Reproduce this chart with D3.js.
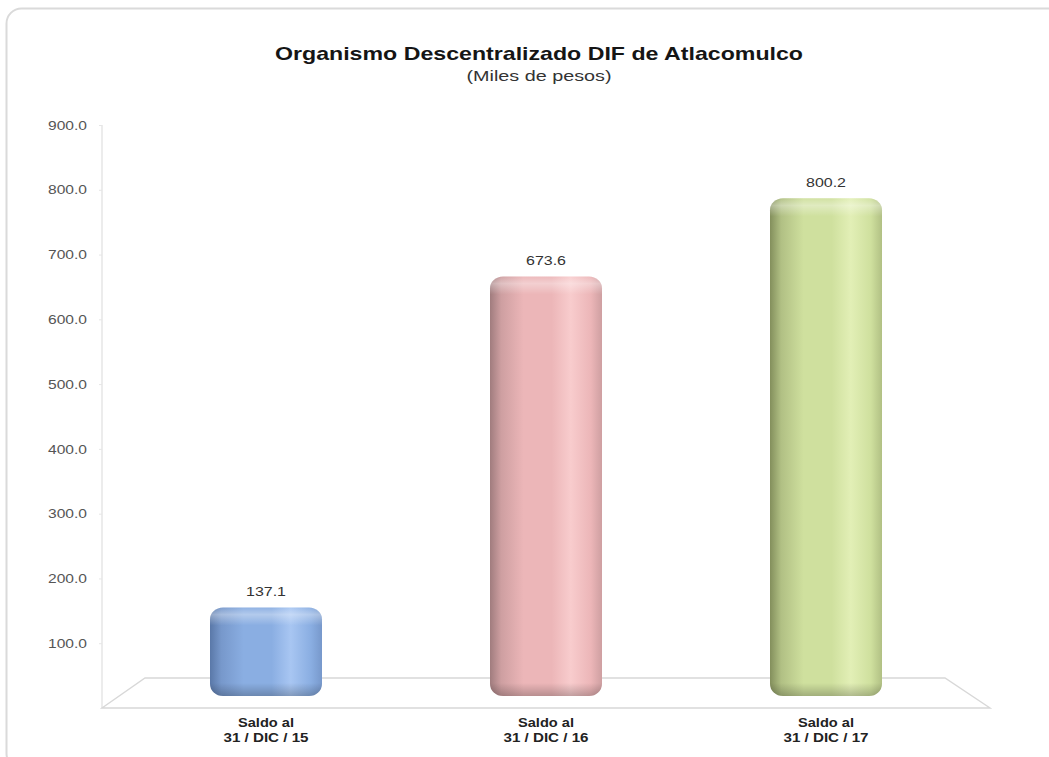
<!DOCTYPE html>
<html><head><meta charset="utf-8">
<script src="https://cdn.jsdelivr.net/npm/d3@7"></script>
<style>body{margin:0;background:#fff;}svg{display:block;}</style>
</head><body>
<svg id="c" width="1049" height="757"></svg>
<script>
const categories = ["Saldo al|31 / DIC / 15", "Saldo al|31 / DIC / 16", "Saldo al|31 / DIC / 17"];
const values = [137.1, 673.6, 800.2];
const valueLabels = ["137.1", "673.6", "800.2"];
const tickValues = [100, 200, 300, 400, 500, 600, 700, 800, 900];
const barColors = [
  {dark:"#5a78a8", mid:"#8aaee2", light:"#a8c6f2"},
  {dark:"#a07c7e", mid:"#ecb6b8", light:"#f8cccd"},
  {dark:"#838f5c", mid:"#cfe09e", light:"#e2efb6"}
];
const title = "Organismo Descentralizado DIF de Atlacomulco";
const subtitle = "(Miles de pesos)";

const FONT = "Liberation Sans, Arial, sans-serif";
const svg = d3.select("#c");
const defs = svg.append("defs");

// outer frame
svg.append("rect").attr("x",6.5).attr("y",8.5).attr("width",1060).attr("height",760)
  .attr("rx",15).attr("fill","#fff").attr("stroke","#dadada").attr("stroke-width",2);

// title
svg.append("text").attr("x",539).attr("y",60).attr("text-anchor","middle")
  .attr("font-family",FONT).attr("font-weight","bold")
  .attr("font-size",19).attr("fill","#151515")
  .attr("textLength",528).attr("lengthAdjust","spacingAndGlyphs").text(title);
svg.append("text").attr("x",539).attr("y",81).attr("text-anchor","middle")
  .attr("font-family",FONT)
  .attr("font-size",14).attr("fill","#333")
  .attr("textLength",145).attr("lengthAdjust","spacingAndGlyphs").text(subtitle);

// axis scale
const yAxisScale = d3.scaleLinear().domain([0,900]).range([708,125]);
const axisG = svg.append("g").attr("transform","translate(102,0)");
const axis = d3.axisLeft(yAxisScale).tickValues(tickValues).tickFormat(d3.format(".1f")).tickSize(3).tickPadding(12);
axisG.call(axis);
axisG.select(".domain").attr("stroke","#d9d9d9").attr("d","M0,125V708");
axisG.selectAll(".tick line").attr("stroke","#e6e6e6");
axisG.selectAll(".tick text").attr("font-family",FONT)
  .attr("font-size",13).attr("fill","#555")
  .attr("textLength",39).attr("lengthAdjust","spacingAndGlyphs");

// floor
const floorG = svg.append("g").attr("fill","none").attr("stroke","#d8d8d8").attr("stroke-width",1.4);
floorG.append("path").attr("d","M102,708L990,708L945,678L145,678Z");

// x scale
const x = d3.scaleBand().domain(categories).range([126,966]).paddingInner(0.6).paddingOuter(0.3);
const yBar = d3.scaleLinear().domain([0,900]).range([692,692-900*0.617]);
const barBottom = 696;

categories.forEach((c,i)=>{
  const col = barColors[i];
  const g1 = defs.append("linearGradient").attr("id","g"+i).attr("x1","0").attr("x2","1").attr("y1","0").attr("y2","0");
  [[0,col.dark],[0.1,d3.interpolate(col.dark,col.mid)(0.6)],[0.3,col.mid],[0.55,col.mid],[0.72,col.light],[0.9,col.mid],[1,d3.interpolate(col.mid,col.dark)(0.4)]].forEach(s=>
    g1.append("stop").attr("offset",s[0]).attr("stop-color",s[1]));
  const g2 = defs.append("linearGradient").attr("id","t"+i).attr("x1","0").attr("x2","0").attr("y1","0").attr("y2","1");
  [[0,"#fff",0.05],[0.2,"#fff",0.35],[0.5,"#fff",0.0],[1,"#fff",0]].forEach(s=>
    g2.append("stop").attr("offset",s[0]).attr("stop-color",s[1]).attr("stop-opacity",s[2]));
  const g3 = defs.append("linearGradient").attr("id","b"+i).attr("x1","0").attr("x2","0").attr("y1","0").attr("y2","1");
  [[0,"#000",0],[0.5,"#000",0],[1,"#000",0.22]].forEach(s=>
    g3.append("stop").attr("offset",s[0]).attr("stop-color",s[1]).attr("stop-opacity",s[2]));
});

const bars = svg.append("g").selectAll("g").data(values).join("g");
bars.each(function(v,i){
  const g = d3.select(this);
  const x0 = x(categories[i]), w = x.bandwidth();
  const yt = yBar(v);
  const h = barBottom - yt;
  g.append("rect").attr("x",x0).attr("y",yt).attr("width",w).attr("height",h)
    .attr("rx",13).attr("ry",12).attr("fill",`url(#g${i})`);
  g.append("rect").attr("x",x0).attr("y",yt).attr("width",w).attr("height",Math.min(36,h))
    .attr("rx",13).attr("ry",12).attr("fill",`url(#t${i})`);
  g.append("rect").attr("x",x0).attr("y",barBottom-26).attr("width",w).attr("height",26)
    .attr("rx",13).attr("ry",12).attr("fill",`url(#b${i})`);
  g.append("text").attr("x",x0+w/2).attr("y",yt-11).attr("text-anchor","middle")
    .attr("font-family",FONT).attr("font-size",13)
    .attr("fill","#333").attr("textLength",40).attr("lengthAdjust","spacingAndGlyphs")
    .text(valueLabels[i]);
});

// category labels
const labG = svg.append("g");
const labLens = [56, 85];
categories.forEach((c,i)=>{
  const parts = c.split("|");
  const cx = x(c)+x.bandwidth()/2;
  parts.forEach((p,j)=>{
    labG.append("text").attr("x",cx).attr("y",727+j*15).attr("text-anchor","middle")
      .attr("font-family",FONT).attr("font-weight","bold")
      .attr("font-size",12.5).attr("fill","#222")
      .attr("textLength",labLens[j]).attr("lengthAdjust","spacingAndGlyphs").text(p);
  });
});
</script>
</body></html>
